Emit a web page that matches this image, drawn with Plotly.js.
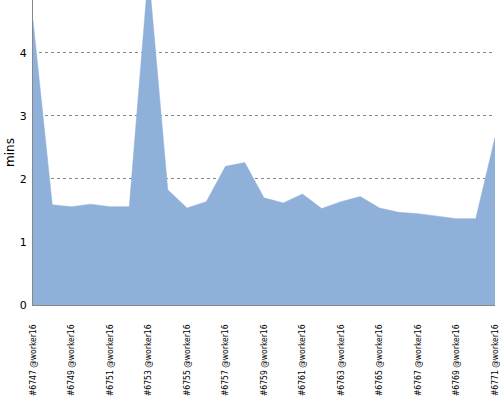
<!DOCTYPE html>
<html><head><meta charset="utf-8">
<script src="https://cdn.plot.ly/plotly-3.0.1.min.js"></script>
<style>html,body{margin:0;padding:0;background:#fff}#c{width:500px;height:400px}</style>
</head><body><div id="c"></div>
<script>
const categories = ["#6747 @worker16","#6748 @worker16","#6749 @worker16","#6750 @worker16","#6751 @worker16","#6752 @worker16","#6753 @worker16","#6754 @worker16","#6755 @worker16","#6756 @worker16","#6757 @worker16","#6758 @worker16","#6759 @worker16","#6760 @worker16","#6761 @worker16","#6762 @worker16","#6763 @worker16","#6764 @worker16","#6765 @worker16","#6766 @worker16","#6767 @worker16","#6768 @worker16","#6769 @worker16","#6770 @worker16","#6771 @worker16"];
const mins = [4.52,1.59,1.56,1.60,1.56,1.56,5.3,1.83,1.54,1.64,2.20,2.26,1.70,1.62,1.76,1.53,1.64,1.72,1.54,1.47,1.45,1.41,1.37,1.37,2.66];
const tickLabels = categories.filter((c,i)=>i%2===0);

Plotly.newPlot('c',[{
  x: categories, y: mins, type:'scatter', mode:'lines',
  fill:'tozeroy', fillcolor:'rgb(142,176,217)',
  line:{color:'rgb(142,176,217)', width:0.5},
  hoverinfo:'skip'
}],{
  width:500,height:400,
  margin:{l:33,r:5,t:0,b:95},
  paper_bgcolor:'#fff',plot_bgcolor:'#fff',
  showlegend:false,
  font:{family:'DejaVu Sans',color:'#000'},
  xaxis:{type:'category',tickvals:tickLabels,ticktext:tickLabels,tickangle:-90,
    tickfont:{size:8.5,family:'DejaVu Sans Condensed, DejaVu Sans'},showgrid:false,showline:true,linecolor:'#888',linewidth:1,
    ticks:'',ticklabelstandoff:15,range:[0,24],zeroline:false},
  yaxis:{range:[0,4.84],tickvals:[0,1,2,3,4],tickfont:{size:11},showline:true,linecolor:'#888',linewidth:1,
    showgrid:true,gridcolor:'#888',griddash:'dot',gridwidth:1,zeroline:false,ticks:'',ticklabelstandoff:3,
    title:{text:'mins',font:{size:12},standoff:2}}
},{displayModeBar:false,staticPlot:true});
</script></body></html>
